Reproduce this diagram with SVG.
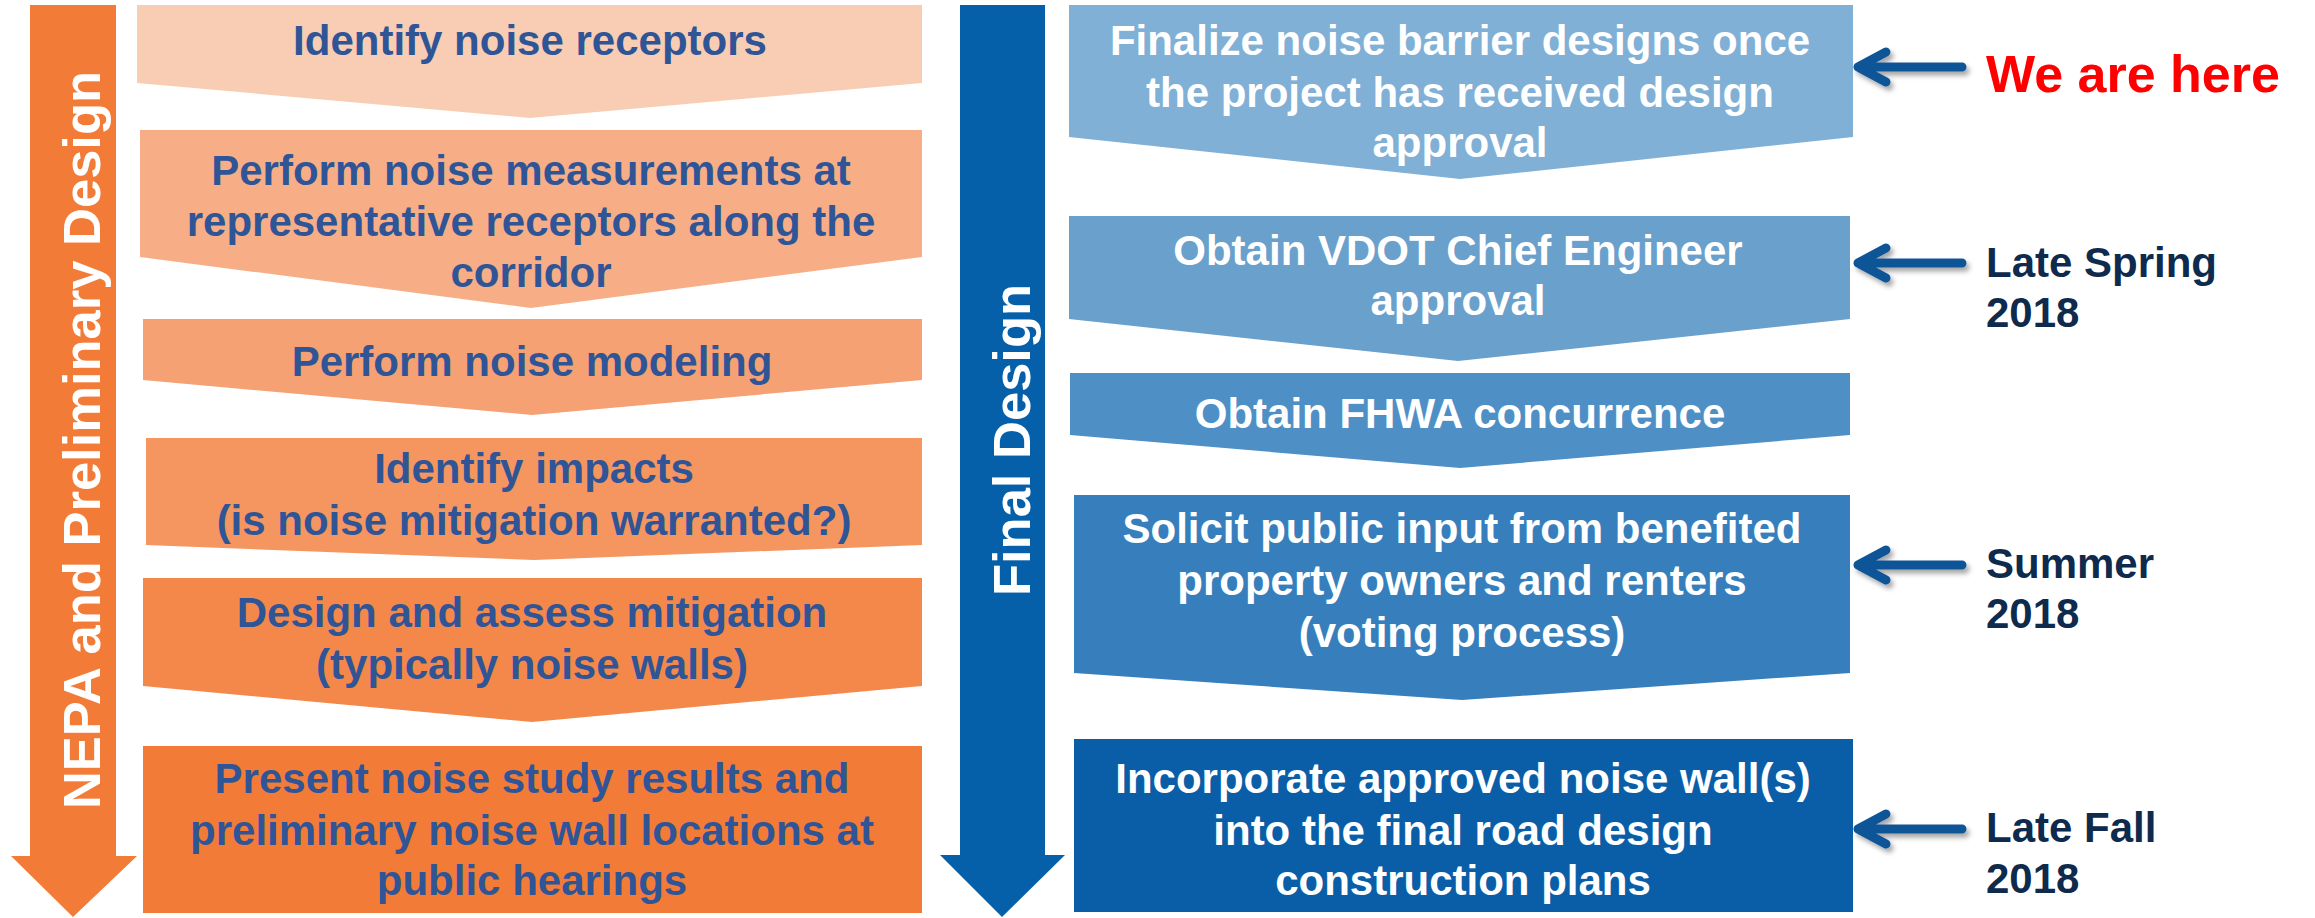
<svg xmlns="http://www.w3.org/2000/svg" width="2315" height="918" viewBox="0 0 2315 918">
<defs>
<style>
.t{font-family:"Liberation Sans",Arial,sans-serif;font-weight:bold;font-size:42px;text-anchor:middle}
.lt{fill:#2F5597}
.rt{fill:#FFFFFF}
.side{font-family:"Liberation Sans",Arial,sans-serif;font-weight:bold;font-size:52.5px;fill:#FFFFFF;text-anchor:middle}
.lab{font-family:"Liberation Sans",Arial,sans-serif;font-weight:bold;font-size:42px;fill:#0E2A4C}
.ptr{fill:none;stroke:#0F5596;stroke-width:9;stroke-linecap:round;stroke-linejoin:round}
</style>
<filter id="sh" x="-20%" y="-50%" width="150%" height="200%">
<feDropShadow dx="3" dy="4" stdDeviation="2.5" flood-color="#000000" flood-opacity="0.35"/>
</filter>
</defs>
<rect width="2315" height="918" fill="#FFFFFF"/>

<g id="phase-nepa">
<polygon points="30,5 116,5 116,856 137,856 73,917 11,856 30,856" fill="#F37B38"/>
<text class="side" transform="translate(100,440) rotate(-90)">NEPA and Preliminary Design</text>
</g>
<g id="phase-final">
<polygon points="960,5 1045,5 1045,855 1065,855 1002,917 940,855 960,855" fill="#0560A9"/>
<text class="side" transform="translate(1030,440) rotate(-90)">Final Design</text>
</g>

<g id="n1"><polygon points="137,5 922,5 922,83 530,118 137,83" fill="#F9CDB3"/>
<text class="t lt" x="530" y="55">Identify noise receptors</text></g>
<g id="n2"><polygon points="140,130 922,130 922,257 531,308 140,257" fill="#F7AE87"/>
<text class="t lt" x="531" y="185">Perform noise measurements at</text>
<text class="t lt" x="531" y="236">representative receptors along the</text>
<text class="t lt" x="531" y="287">corridor</text></g>
<g id="n3"><polygon points="143,319 922,319 922,380 532,415 143,380" fill="#F6A173"/>
<text class="t lt" x="532" y="376">Perform noise modeling</text></g>
<g id="n4"><polygon points="146,438 922,438 922,545 534,560 146,545" fill="#F5955F"/>
<text class="t lt" x="534" y="483">Identify impacts</text>
<text class="t lt" x="534" y="535">(is noise mitigation warranted?)</text></g>
<g id="n5"><polygon points="143,578 922,578 922,686 532,722 143,686" fill="#F4884B"/>
<text class="t lt" x="532" y="627">Design and assess mitigation</text>
<text class="t lt" x="532" y="679">(typically noise walls)</text></g>
<g id="n6"><rect x="143" y="746" width="779" height="167" fill="#F37B38"/>
<text class="t lt" x="532" y="793">Present noise study results and</text>
<text class="t lt" x="532" y="845">preliminary noise wall locations at</text>
<text class="t lt" x="532" y="895">public hearings</text></g>

<g id="r1"><polygon points="1069,5 1853,5 1853,137 1460,179 1069,137" fill="#80B0D6"/>
<text class="t rt" x="1460" y="55">Finalize noise barrier designs once</text>
<text class="t rt" x="1460" y="107">the project has received design</text>
<text class="t rt" x="1460" y="157">approval</text></g>
<g id="r2"><polygon points="1069,216 1850,216 1850,319 1458,361 1069,319" fill="#6AA0CC"/>
<text class="t rt" x="1458" y="265">Obtain VDOT Chief Engineer</text>
<text class="t rt" x="1458" y="315">approval</text></g>
<g id="r3"><polygon points="1070,373 1850,373 1850,435 1460,468 1070,435" fill="#4E90C6"/>
<text class="t rt" x="1460" y="428">Obtain FHWA concurrence</text></g>
<g id="r4"><polygon points="1074,495 1850,495 1850,673 1462,700 1074,673" fill="#367FBC"/>
<text class="t rt" x="1462" y="543">Solicit public input from benefited</text>
<text class="t rt" x="1462" y="595">property owners and renters</text>
<text class="t rt" x="1462" y="647">(voting process)</text></g>
<g id="r5"><rect x="1074" y="739" width="779" height="173" fill="#0A5EA8"/>
<text class="t rt" x="1463" y="793">Incorporate approved noise wall(s)</text>
<text class="t rt" x="1463" y="845">into the final road design</text>
<text class="t rt" x="1463" y="895">construction plans</text></g>

<g id="connectors" filter="url(#sh)">
<path class="ptr" d="M1962,67 H1858 M1886,52 L1858,67 L1886,82"/>
<path class="ptr" d="M1962,263 H1858 M1886,248 L1858,263 L1886,278"/>
<path class="ptr" d="M1962,565 H1858 M1886,550 L1858,565 L1886,580"/>
<path class="ptr" d="M1962,829 H1858 M1886,814 L1858,829 L1886,844"/>
</g>

<g id="labels">
<text x="1986" y="92" style="font-family:'Liberation Sans',Arial,sans-serif;font-weight:bold;font-size:52px;fill:#FF0000">We are here</text>
<text class="lab" x="1986" y="277">Late Spring</text>
<text class="lab" x="1986" y="327">2018</text>
<text class="lab" x="1986" y="578">Summer</text>
<text class="lab" x="1986" y="628">2018</text>
<text class="lab" x="1986" y="842">Late Fall</text>
<text class="lab" x="1986" y="893">2018</text>
</g>
</svg>
